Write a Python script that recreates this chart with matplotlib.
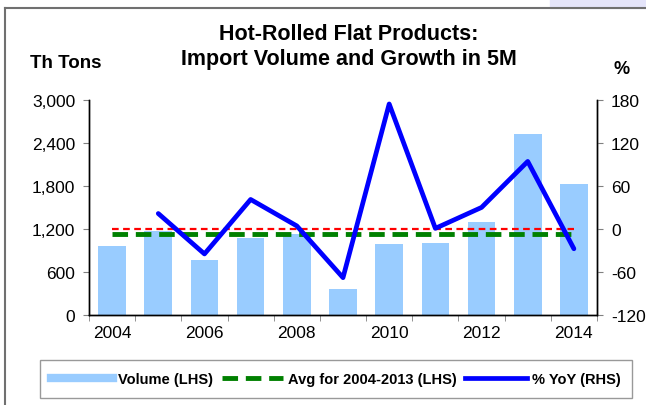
import matplotlib
matplotlib.use("Agg")
import matplotlib.pyplot as plt
from matplotlib.lines import Line2D
from matplotlib.patches import Rectangle

plt.rcParams['font.family'] = ['Liberation Sans', 'DejaVu Sans']

years = [2004, 2005, 2006, 2007, 2008, 2009, 2010, 2011, 2012, 2013, 2014]
volume = [963, 1171, 764, 1079, 1125, 361, 991, 1000, 1301, 2528, 1829]
yoy = [None, 21.6, -34.8, 41.2, 4.3, -67.9, 174.5, 0.9, 30.1, 94.3, -27.6]
zero_ref = [0] * len(years)
left_ticks = [0, 600, 1200, 1800, 2400, 3000]
right_ticks = [-120, -60, 0, 60, 120, 180]

avg = sum(volume[:10]) / 10.0
x = list(range(len(years)))

fig = plt.figure(figsize=(6.46, 4.06), dpi=100)
ax = fig.add_axes([89/646, 1-316/406, (597-89)/646, (316-101)/406])
ax2 = ax.twinx()

ax.bar(x, volume, width=0.6, color='#99CCFF', zorder=2)
ax.plot(x, [avg] * len(x), color='#008000', lw=3.5, dashes=(3.2, 1.6), zorder=3)
ax2.plot(x, zero_ref, color='#FF0000', lw=1.6, dashes=(3, 2), zorder=3)
xs = [xi for xi, v in zip(x, yoy) if v is not None]
ys = [v for v in yoy if v is not None]
ax2.plot(xs, ys, color='#0000FF', lw=3.4, solid_capstyle='round', zorder=4)

ax.set_xlim(-0.5, len(x) - 0.5)
ax.set_ylim(0, 3000)
ax2.set_ylim(-120, 180)
ax.set_yticks(left_ticks)
ax.set_yticklabels([f"{t:,}" for t in left_ticks], fontsize=12.5)
ax2.set_yticks(right_ticks)
ax2.set_yticklabels([str(t) for t in right_ticks], fontsize=12.5)
ax.set_xticks(x[::2])
ax.set_xticklabels([str(y) for y in years[::2]], fontsize=12.5)
ax.set_xticks([i - 0.5 for i in range(len(x) + 1)], minor=True)
ax.tick_params(axis='x', which='major', length=0, pad=7)
ax.tick_params(axis='x', which='minor', length=4, color='#808080')
ax.tick_params(axis='y', length=4, color='#808080', pad=6)
ax2.tick_params(axis='y', length=4, color='#808080', pad=6)

for a in (ax, ax2):
    a.spines['top'].set_visible(False)
    for s in ('left', 'right', 'bottom'):
        a.spines[s].set_color('black')
        a.spines[s].set_linewidth(1)

fig.text(349/646, 1-35/406, "Hot-Rolled Flat Products:", ha='center', va='center',
         fontsize=15.5, fontweight='bold')
fig.text(349/646, 1-59/406, "Import Volume and Growth in 5M", ha='center', va='center',
         fontsize=15.5, fontweight='bold')
fig.text(30/646, 1-63/406, "Th Tons", ha='left', va='center', fontsize=13.5, fontweight='bold')
fig.text(613/646, 1-69/406, "%", ha='left', va='center', fontsize=13, fontweight='bold')

handles = [Line2D([], [], color='#99CCFF', lw=6),
           Line2D([], [], color='#008000', lw=3.5, dashes=(3.2, 1.6)),
           Line2D([], [], color='#0000FF', lw=3.4)]
labels = ["Volume (LHS)", "Avg for 2004-2013 (LHS)", "% YoY (RHS)"]
leg = fig.legend(handles, labels, loc='center', bbox_to_anchor=(336/646, 1-380/406),
                 ncol=3, frameon=True, fancybox=False, edgecolor='#808080',
                 prop={'weight': 'bold', 'size': 10.5}, handlelength=4.2,
                 handletextpad=0.35, columnspacing=0.6, borderpad=0.8)
leg.get_frame().set_linewidth(1)

# outer frame and slide background strip
fig.patches.append(Rectangle((550/646, 1-9/406), 96/646, 9/406, transform=fig.transFigure,
                             color='#E4E4FA', zorder=0))
fig.lines.append(Line2D([5/646, 5/646], [0, 1-9/406], transform=fig.transFigure,
                        color='#707070', lw=1.5))
fig.lines.append(Line2D([5/646, 1], [1-9/406, 1-9/406], transform=fig.transFigure,
                        color='#707070', lw=1.5))

fig.savefig("out.png", dpi=100)
